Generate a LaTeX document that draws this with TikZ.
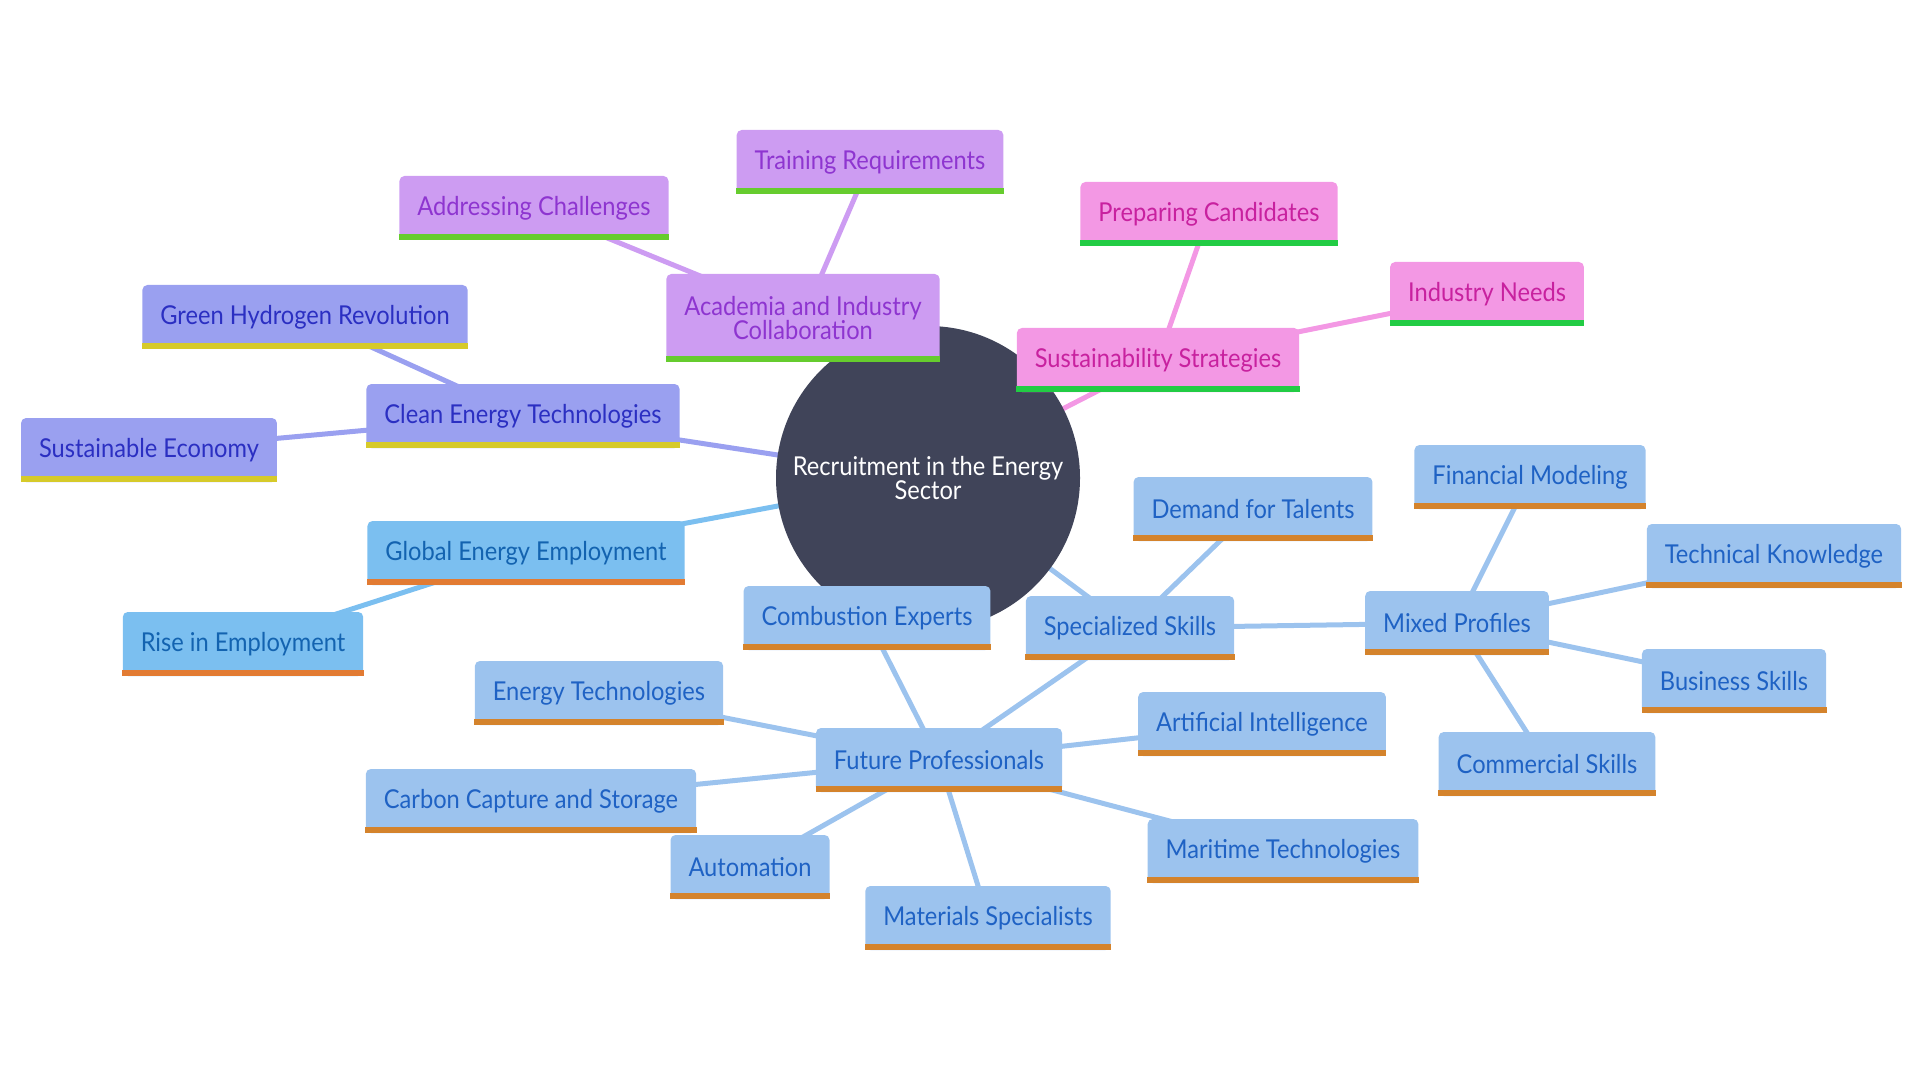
\documentclass[tikz,border=0pt]{standalone}
\usepackage{fontspec}
\setmainfont{Lato}[FakeStretch=0.91]
\usetikzlibrary{backgrounds}

\definecolor{rootfill}{HTML}{404459}
\definecolor{acadfill}{HTML}{CD9CF2}
\definecolor{acadtext}{HTML}{8E35D0}
\definecolor{acadbar}{HTML}{66CC2E}
\definecolor{sustfill}{HTML}{F398E4}
\definecolor{susttext}{HTML}{C8219F}
\definecolor{sustbar}{HTML}{22CC44}
\definecolor{cleanfill}{HTML}{9AA0F0}
\definecolor{cleantext}{HTML}{2B2FC2}
\definecolor{cleanbar}{HTML}{D6CA2A}
\definecolor{globfill}{HTML}{7BBFF0}
\definecolor{globtext}{HTML}{1363B0}
\definecolor{globbar}{HTML}{E27B33}
\definecolor{specfill}{HTML}{9CC3EE}
\definecolor{spectext}{HTML}{1F62C4}
\definecolor{specbar}{HTML}{D4832C}

\begin{document}
\begin{tikzpicture}[x=0.5pt,y=-0.5pt]
  \tikzstyle{box}=[rectangle,rounded corners=2.5pt,minimum height=32pt,inner xsep=9pt,font=\fontsize{13}{12.2}\selectfont]
  \tikzstyle{acad}=[box,fill=acadfill,text=acadtext]
  \tikzstyle{sust}=[box,fill=sustfill,text=susttext]
  \tikzstyle{clean}=[box,fill=cleanfill,text=cleantext]
  \tikzstyle{glob}=[box,fill=globfill,text=globtext]
  \tikzstyle{spec}=[box,fill=specfill,text=spectext]
  \tikzstyle{edge}=[line width=2.5pt]

  \useasboundingbox (0,0) rectangle (1920,1080);

  % Root
  \node[circle,inner sep=0pt,fill=rootfill,text=white,minimum size=152pt,align=center,font=\fontsize{13}{11.8}\selectfont] (root) at (928,478) {Recruitment in the Energy\\Sector};

  % Academia branch
  \node[acad,align=center,minimum height=44pt] (collab) at (803,318) {Academia and Industry\\Collaboration};
  \node[acad] (training) at (870,162) {Training Requirements};
  \node[acad] (challenges) at (534,208) {Addressing Challenges};

  % Sustainability branch
  \node[sust] (strategies) at (1158,360) {Sustainability Strategies};
  \node[sust] (candidates) at (1209,214) {Preparing Candidates};
  \node[sust] (needs) at (1487,294) {Industry Needs};

  % Clean energy branch
  \node[clean] (cleantech) at (523,416) {Clean Energy Technologies};
  \node[clean] (hydrogen) at (305,317) {Green Hydrogen Revolution};
  \node[clean] (economy) at (149,450) {Sustainable Economy};

  % Employment branch
  \node[glob] (employment) at (526,553) {Global Energy Employment};
  \node[glob] (rise) at (243,644) {Rise in Employment};

  % Skills branch
  \node[spec] (skills) at (1130,628) {Specialized Skills};
  \node[spec] (demand) at (1253,509) {Demand for Talents};
  \node[spec] (mixed) at (1457,623) {Mixed Profiles};
  \node[spec] (financial) at (1530,477) {Financial Modeling};
  \node[spec] (technical) at (1774,556) {Technical Knowledge};
  \node[spec] (business) at (1734,681) {Business Skills};
  \node[spec] (commercial) at (1547,764) {Commercial Skills};
  \node[spec] (future) at (939,760) {Future Professionals};
  \node[spec] (combustion) at (867,618) {Combustion Experts};
  \node[spec] (energytech) at (599,693) {Energy Technologies};
  \node[spec] (ai) at (1262,724) {Artificial Intelligence};
  \node[spec] (ccs) at (531,801) {Carbon Capture and Storage};
  \node[spec] (maritime) at (1283,851) {Maritime Technologies};
  \node[spec] (automation) at (750,867) {Automation};
  \node[spec] (materials) at (988,918) {Materials Specialists};

  % Bottom bars
  \foreach \n/\c in {collab/acadbar,training/acadbar,challenges/acadbar,
    strategies/sustbar,candidates/sustbar,needs/sustbar,
    cleantech/cleanbar,hydrogen/cleanbar,economy/cleanbar,
    employment/globbar,rise/globbar,
    skills/specbar,demand/specbar,mixed/specbar,financial/specbar,technical/specbar,
    business/specbar,commercial/specbar,future/specbar,combustion/specbar,
    energytech/specbar,ai/specbar,ccs/specbar,maritime/specbar,automation/specbar,materials/specbar}
    \fill[\c] (\n.south west) rectangle ([yshift=3pt]\n.south east);

  % Edges
  \begin{scope}[on background layer]
    \foreach \a/\b/\c in {root/collab/acadfill,collab/training/acadfill,collab/challenges/acadfill,
      root/strategies/sustfill,strategies/candidates/sustfill,strategies/needs/sustfill,
      root/cleantech/cleanfill,cleantech/hydrogen/cleanfill,cleantech/economy/cleanfill,
      root/employment/globfill,employment/rise/globfill,
      root/skills/specfill,skills/demand/specfill,skills/mixed/specfill,
      mixed/financial/specfill,mixed/technical/specfill,mixed/business/specfill,mixed/commercial/specfill,
      skills/future/specfill,future/combustion/specfill,future/energytech/specfill,future/ai/specfill,
      future/ccs/specfill,future/maritime/specfill,future/automation/specfill,future/materials/specfill}
      \draw[edge,\c] (\a.center) -- (\b.center);
  \end{scope}
\end{tikzpicture}
\end{document}
